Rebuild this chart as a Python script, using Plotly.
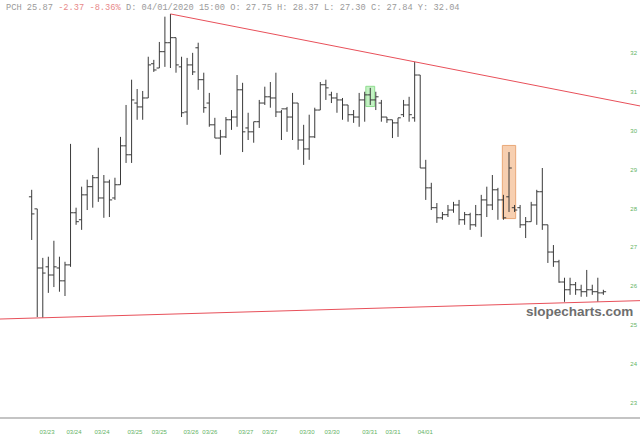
import plotly.graph_objects as go

# ---- data (30-min bars, PCH) ----
opens = [28.30, 27.99, 26.47, 26.50, 26.29, 26.47, 26.14, 26.55, 27.89, 27.71,
         28.35, 28.56, 28.79, 28.27, 28.68, 28.27, 28.61, 29.61, 29.38, 30.71,
         30.61, 30.84, 31.72, 31.61, 32.03, 32.26, 32.39, 31.64, 30.48, 31.69,
         32.13, 31.31, 30.71, 30.15, 29.81, 29.84, 30.28, 30.35, 31.05, 30.07,
         29.97, 30.23, 30.71, 30.87, 30.84, 30.48, 30.56, 30.35, 30.71, 29.76,
         29.53, 29.84, 30.53, 31.18, 30.92, 30.84, 30.79, 30.66, 30.41, 30.35,
         30.79, 30.92, 30.79, 30.71, 30.35, 30.28, 30.20, 30.41, 30.66, 30.33,
         31.43, 29.04, 28.53, 28.02, 27.76, 27.84, 27.96, 28.09, 27.71, 27.84,
         27.58, 27.84, 28.22, 28.09, 28.48, 28.22, 28.30, 28.02, 28.02, 27.58,
         27.66, 28.09, 28.43, 27.58, 26.88, 26.63, 26.11, 25.91, 26.04, 25.91,
         25.86, 25.91, 25.86, 25.83]
highs = [28.48, 27.99, 26.73, 26.76, 27.17, 26.76, 26.63, 29.66, 28.02, 28.56,
         28.74, 28.86, 29.56, 28.86, 28.74, 28.79, 29.84, 30.66, 31.31, 31.07,
         31.02, 31.90, 31.82, 32.28, 32.93, 33.00, 32.39, 31.90, 31.87, 32.00,
         32.26, 31.49, 30.97, 30.33, 30.02, 30.35, 30.53, 31.43, 31.23, 30.46,
         30.23, 30.79, 31.13, 31.25, 31.49, 30.53, 30.61, 30.97, 30.71, 30.15,
         30.41, 30.59, 31.25, 31.31, 31.00, 30.97, 30.84, 30.66, 30.53, 30.97,
         31.00, 31.10, 31.00, 30.79, 30.35, 30.28, 30.33, 30.79, 30.87, 31.77,
         31.43, 29.25, 28.66, 28.14, 27.91, 28.09, 28.17, 28.22, 27.91, 27.89,
         28.09, 28.35, 28.56, 28.86, 28.53, 28.35, 29.45, 28.09, 28.09, 27.78,
         28.17, 28.48, 29.04, 27.58, 27.06, 26.68, 26.22, 26.22, 26.11, 26.04,
         26.42, 26.04, 26.22, 25.91]
lows = [27.19, 25.21, 25.19, 25.83, 25.98, 25.86, 25.75, 26.50, 27.58, 27.45,
        27.96, 28.02, 28.17, 27.76, 27.78, 28.22, 28.61, 29.17, 29.17, 30.28,
        30.28, 30.84, 31.51, 31.61, 31.64, 31.61, 31.49, 30.35, 30.15, 31.43,
        31.05, 30.46, 30.10, 29.81, 29.38, 29.81, 30.02, 30.10, 29.45, 29.76,
        29.69, 30.07, 30.66, 30.59, 30.35, 29.76, 29.97, 29.76, 29.51, 29.12,
        29.25, 29.81, 30.53, 30.79, 30.71, 30.46, 30.28, 30.23, 30.20, 30.10,
        30.23, 30.66, 30.53, 30.23, 30.20, 29.81, 29.84, 30.35, 30.23, 30.23,
        29.04, 28.22, 27.96, 27.63, 27.71, 27.78, 27.89, 27.58, 27.58, 27.45,
        27.53, 27.27, 27.78, 27.96, 27.71, 27.71, 27.91, 27.91, 27.50, 27.24,
        27.66, 27.58, 27.45, 26.60, 26.50, 26.09, 25.60, 25.78, 25.78, 25.73,
        25.73, 25.78, 25.60, 25.78]
closes = [27.86, 26.47, 26.34, 26.29, 26.50, 26.14, 26.55, 27.89, 27.66, 28.35,
          28.56, 28.79, 28.27, 28.68, 28.22, 28.61, 29.61, 29.38, 30.79, 30.61,
          30.84, 31.69, 31.56, 32.03, 32.26, 32.39, 31.69, 30.46, 31.69, 31.51,
          31.31, 30.59, 30.15, 29.81, 29.84, 30.28, 30.35, 31.05, 29.97, 29.97,
          30.23, 30.71, 30.87, 30.84, 30.48, 30.56, 30.35, 30.71, 29.76, 29.53,
          29.84, 30.53, 31.18, 31.10, 30.84, 30.79, 30.66, 30.41, 30.35, 30.79,
          30.92, 30.79, 30.87, 30.35, 30.28, 30.20, 30.33, 30.66, 30.41, 31.43,
          29.04, 28.53, 28.02, 27.76, 27.84, 27.96, 28.09, 27.71, 27.84, 27.58,
          27.84, 28.22, 28.09, 28.48, 28.22, 27.76, 29.04, 27.96, 27.58, 27.66,
          28.09, 28.43, 27.58, 26.88, 26.63, 26.11, 25.91, 26.04, 25.91, 25.86,
          25.91, 25.86, 25.83, 25.86]
bar_index = list(range(len(closes)))

# date tick labels and their (bar-index) positions
tick_pos = [2.76, 7.62, 12.67, 18.6, 23.0, 28.7, 32.1, 38.6, 42.9, 49.6, 54.1, 60.9, 65.1, 70.9]
tick_text = ["03/23", "03/24", "03/24", "03/25", "03/25", "03/26", "03/26",
             "03/27", "03/27", "03/30", "03/30", "03/31", "03/31", "04/01"]
price_ticks = [23, 24, 25, 26, 27, 28, 29, 30, 31, 32]

# trendline anchors (bar indices) : upper through highs, lower through lows
upper_anchor = [25, 69]
lower_anchor = [2, 102]

# highlighted bars
hl_index = [61, 86]
hl_fill = ["#c4f2c4", "#f7cfb0"]
hl_edge = ["#8fdc8f", "#e9a878"]
hl_halfw = [0.8, 1.2]
hl_pad = [0.04, 0.17]

header = ("PCH 25.87 <span style='color:#e88a8a'>-2.37 -8.36%</span> D: 04/01/2020 15:00 "
          "O: 27.75 H: 28.37 L: 27.30 C: 27.84 Y: 32.04")

X_RANGE = [-5.71, 109.6]
Y_RANGE = [22.64, 33.05]

fig = go.Figure()

fig.add_trace(go.Ohlc(
    x=bar_index, open=opens, high=highs, low=lows, close=closes,
    increasing=dict(line=dict(color="#3a3a3a", width=1)),
    decreasing=dict(line=dict(color="#3a3a3a", width=1)),
    tickwidth=0.5, hoverinfo="skip", showlegend=False,
))

# upper trendline (from the top bar, extended right)
a, b = upper_anchor
su = (highs[b] - highs[a]) / (b - a)
fig.add_trace(go.Scatter(
    x=[a, X_RANGE[1]], y=[highs[a], highs[a] + su * (X_RANGE[1] - a)],
    mode="lines", line=dict(color="#e8505a", width=1), hoverinfo="skip", showlegend=False))

a, b = lower_anchor
sl = (lows[b] - lows[a]) / (b - a)
fig.add_trace(go.Scatter(
    x=[X_RANGE[0], X_RANGE[1]],
    y=[lows[a] + sl * (X_RANGE[0] - a), lows[a] + sl * (X_RANGE[1] - a)],
    mode="lines", line=dict(color="#e8505a", width=1), hoverinfo="skip", showlegend=False))

for i, fc, ec, hw, pad in zip(hl_index, hl_fill, hl_edge, hl_halfw, hl_pad):
    fig.add_shape(type="rect", xref="x", yref="y", x0=i - hw, x1=i + hw,
                  y0=lows[i] - pad, y1=highs[i] + pad,
                  fillcolor=fc, line=dict(color=ec, width=1), layer="below")

fig.add_annotation(xref="paper", yref="paper", x=0, y=1, xanchor="left", yanchor="middle",
                   xshift=4, yshift=4, text=header, showarrow=False,
                   font=dict(family="Liberation Mono", size=8.7, color="#9a9a9a"))

fig.add_annotation(xref="paper", yref="y", x=635 / 640, y=25.34, xanchor="right", yanchor="middle",
                   text="<b>slopecharts.com</b>", showarrow=False,
                   font=dict(family="Liberation Sans", size=13.5, color="#6e6e6e"))

fig.update_layout(
    width=640, height=440,
    margin=dict(l=0, r=0, t=12, b=23),
    paper_bgcolor="white", plot_bgcolor="white",
    showlegend=False,
    xaxis=dict(range=X_RANGE, tickvals=tick_pos, ticktext=tick_text,
               showgrid=False, zeroline=False, showline=True, linecolor="#c4c4c4", linewidth=2,
               ticks="", ticklabelstandoff=8,
               tickfont=dict(family="Liberation Sans", size=6, color="#63b363"),
               rangeslider=dict(visible=False), fixedrange=True),
    yaxis=dict(range=Y_RANGE, tickvals=price_ticks, side="right", ticklabelposition="inside",
               showgrid=False, zeroline=False, showline=False, ticks="",
               tickfont=dict(family="Liberation Sans", size=6, color="#63b363"), fixedrange=True),
)

fig.write_html("out.html", config={"displayModeBar": False},
               post_script="document.body.style.margin='0';document.body.style.overflow='hidden';")
